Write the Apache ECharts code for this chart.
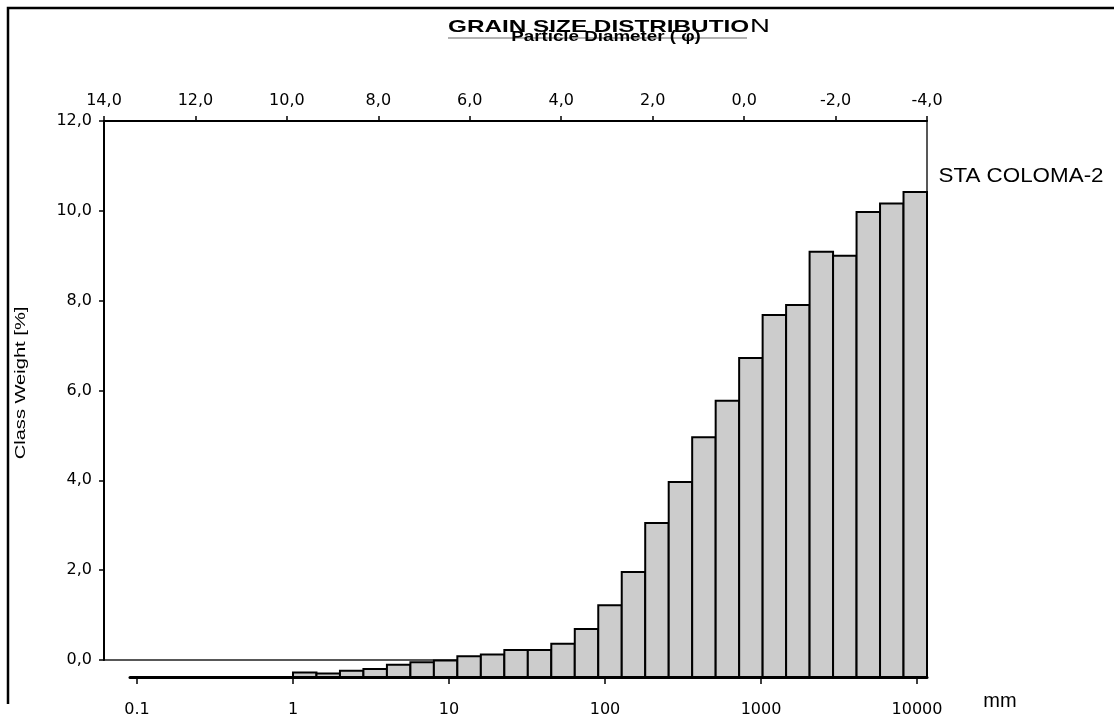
<!DOCTYPE html>
<html>
<head>
<meta charset="utf-8">
<script src="https://cdn.jsdelivr.net/npm/echarts@6/dist/echarts.min.js"></script>
<style>
html,body{margin:0;padding:0;background:#fff;}
#chart{width:1114px;height:715px;}
</style>
</head>
<body>
<div id="chart"></div>
<script>
// ---- data ----
// size class edges (mm), half-phi classes
const classEdgesMm = [1, 1.414, 2, 2.828, 4, 5.657, 8, 11.31, 16, 22.63, 32, 45.25, 64, 90.51,
  128, 181.0, 256, 362.0, 512, 724.1, 1024, 1448, 2048, 2896, 4096, 5793, 8192, 11585];
// class weight (%) per class, measured from the shifted bar baseline
const classWeight = [0.10, 0.08, 0.14, 0.18, 0.27, 0.33, 0.37, 0.46, 0.50, 0.60, 0.60, 0.74,
  1.07, 1.60, 2.34, 3.43, 4.34, 5.34, 6.15, 7.10, 8.06, 8.28, 9.47, 9.38, 10.35, 10.54, 10.80];
const mmTickValues = [0.1, 1, 10, 100, 1000, 10000];
const mmTickLabels = ['0.1', '1', '10', '100', '1000', '10000'];
const phiMin = -4, phiMax = 14, phiStep = 2;
const weightMin = 0, weightMax = 12, weightStep = 2;
const mmAxisMin = 0.0902, mmAxisMax = 11585;

const barData = classWeight.map((w, i) => [Math.log10(classEdgesMm[i]), Math.log10(classEdgesMm[i + 1]), w]);
const comma = v => v.toFixed(1).replace('.', ',');

const chart = echarts.init(document.getElementById('chart'));
const option = {
  animation: false,
  backgroundColor: '#fff',
  grid: [
    {left: 104, right: 187, top: 121, bottom: 55, outerBoundsMode: 'none', containLabel: false,
      show: true, borderColor: '#222', borderWidth: 1.5, backgroundColor: 'transparent'},
    {left: 130, right: 187, top: 138, bottom: 38, outerBoundsMode: 'none', containLabel: false}
  ],
  xAxis: [
    {
      gridIndex: 0, type: 'value', position: 'top', inverse: true,
      min: phiMin, max: phiMax, interval: phiStep,
      axisLine: {show: true, onZero: false, lineStyle: {color: '#000', width: 2}},
      axisTick: {show: true, length: 5, lineStyle: {color: '#000', width: 1.5}},
      axisLabel: {formatter: comma, color: '#000', fontSize: 16, fontFamily: 'DejaVu Sans', margin: 12},
      splitLine: {show: false}
    },
    {
      gridIndex: 1, type: 'value', position: 'bottom',
      min: Math.log10(mmAxisMin), max: Math.log10(mmAxisMax),
      axisLine: {show: true, onZero: false, lineStyle: {color: '#000', width: 3}},
      axisTick: {show: true, length: 7, customValues: mmTickValues.map(Math.log10), lineStyle: {color: '#000', width: 1.5}},
      axisLabel: {
        customValues: mmTickValues.map(Math.log10),
        formatter: v => {
          const i = mmTickValues.findIndex(t => Math.abs(Math.log10(t) - v) < 1e-6);
          return i >= 0 ? mmTickLabels[i] : '';
        },
        color: '#000', fontSize: 16, fontFamily: 'DejaVu Sans', margin: 25
      },
      splitLine: {show: false}
    }
  ],
  yAxis: [
    {
      gridIndex: 0, type: 'value', min: weightMin, max: weightMax, interval: weightStep,
      axisLine: {show: true, onZero: false, lineStyle: {color: '#000', width: 2}},
      axisTick: {show: true, length: 5, lineStyle: {color: '#000', width: 1.5}},
      axisLabel: {formatter: comma, color: '#000', fontSize: 16, fontFamily: 'DejaVu Sans', margin: 12},
      splitLine: {show: false}
    },
    {
      gridIndex: 1, type: 'value', min: weightMin, max: weightMax, show: false,
      axisLine: {onZero: false},
      splitLine: {show: false}
    }
  ],
  series: [{
    type: 'custom',
    xAxisIndex: 1, yAxisIndex: 1,
    encode: {x: [0, 1], y: 2},
    data: barData,
    z: 5,
    renderItem: function (params, api) {
      const p0 = api.coord([api.value(0), 0]);
      const p1 = api.coord([api.value(1), api.value(2)]);
      return {
        type: 'rect',
        shape: {x: p0[0], y: p1[1], width: p1[0] - p0[0], height: p0[1] - p1[1]},
        style: {fill: '#cccccc', stroke: '#000', lineWidth: 2}
      };
    }
  }],
  graphic: [
    {type: 'polyline', z: 10, shape: {points: [[8, 704], [8, 8], [1114, 8]]}, style: {stroke: '#000', lineWidth: 2.5, fill: null}},
    {type: 'line', z: 10, shape: {x1: 448, y1: 38, x2: 747, y2: 38}, style: {stroke: '#999', lineWidth: 1.5}},
    {type: 'text', z: 11, x: 448, y: 27, scaleX: 1.43,
      style: {text: 'GRAIN SIZE DISTRIBUTIO', font: 'bold 17px "Liberation Sans", Arial, sans-serif', fill: '#000',
        align: 'left', textAlign: 'left', verticalAlign: 'middle', textVerticalAlign: 'middle'}},
    {type: 'text', z: 11, x: 750, y: 27, scaleX: 1.45,
      style: {text: 'N', font: '19px "Liberation Sans", Arial, sans-serif', fill: '#000',
        align: 'left', textAlign: 'left', verticalAlign: 'middle', textVerticalAlign: 'middle'}},
    {type: 'text', z: 12, x: 606, y: 37.5, scaleX: 1.34,
      style: {text: 'Particle Diameter ( \u03c6)', font: 'bold 14px "Liberation Sans", Arial, sans-serif', fill: '#000',
        align: 'center', textAlign: 'center', verticalAlign: 'middle', textVerticalAlign: 'middle'}},
    {type: 'text', z: 11, x: 21, y: 383, rotation: Math.PI / 2, scaleX: 1.34,
      style: {text: 'Class Weight [%]', font: '15px "Liberation Sans", Arial, sans-serif', fill: '#000',
        align: 'center', textAlign: 'center', verticalAlign: 'middle', textVerticalAlign: 'middle'}},
    {type: 'text', z: 11, x: 1021, y: 176, scaleX: 1.12,
      style: {text: 'STA COLOMA-2', font: '20px "Liberation Sans", Arial, sans-serif', fill: '#000',
        align: 'center', textAlign: 'center', verticalAlign: 'middle', textVerticalAlign: 'middle'}},
    {type: 'text', z: 11, x: 1000, y: 701,
      style: {text: 'mm', font: '20px "Liberation Sans", Arial, sans-serif', fill: '#000',
        align: 'center', textAlign: 'center', verticalAlign: 'middle', textVerticalAlign: 'middle'}}
  ]
};
chart.setOption(option);
</script>
</body>
</html>
